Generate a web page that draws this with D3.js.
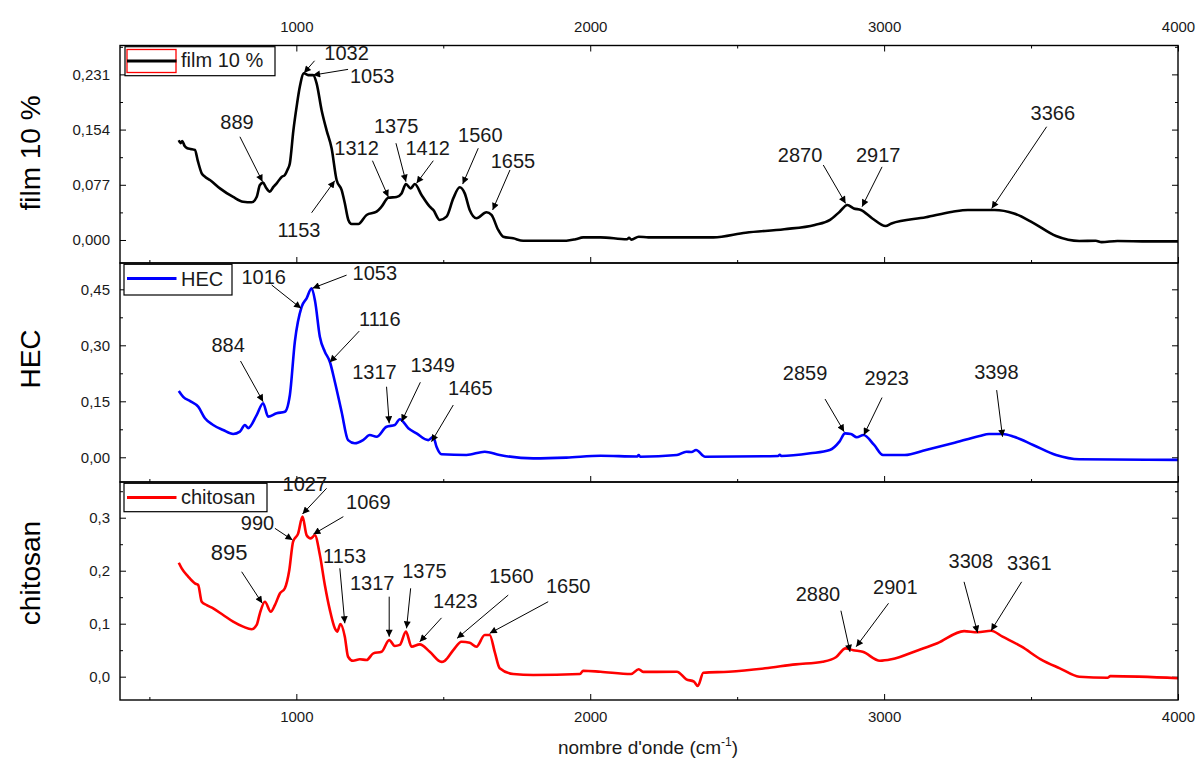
<!DOCTYPE html>
<html>
<head>
<meta charset="utf-8">
<script src="https://cdn.jsdelivr.net/npm/d3@7"></script>
<style>
  body { margin: 0; background: #fff; }
  svg { display: block; font-family: "Liberation Sans", Arial, sans-serif; }
</style>
</head>
<body>
<div id="chart"></div>
<script>
// ---- data: [wavenumber, absorbance] ----
const filmSpectrum = [
  [600,0.139],[606,0.135],[612,0.138],[620,0.131],[629,0.128],[640,0.127],[655,0.1256],[665,0.110],[678,0.093],
  [690,0.088],[706,0.0837],[740,0.072],[785,0.060],[819,0.0534],[848,0.0526],[865,0.060],[876,0.0767],[887,0.080],
  [897,0.073],[910,0.0674],[922,0.074],[933,0.079],[950,0.088],[961,0.0907],[970,0.098],[978,0.107],[990,0.153],
  [1001,0.186],[1012,0.214],[1026,0.2325],[1040,0.230],[1057,0.230],[1069,0.2186],[1086,0.181],[1103,0.153],
  [1120,0.128],[1137,0.0837],[1154,0.0698],[1165,0.0512],[1177,0.0279],[1188,0.0223],[1211,0.0223],[1239,0.0349],
  [1273,0.0395],[1290,0.0465],[1313,0.059],[1341,0.060],[1358,0.065],[1373,0.078],[1389,0.072],[1403,0.078],
  [1426,0.0628],[1454,0.0465],[1466,0.0419],[1488,0.0279],[1511,0.0325],[1534,0.058],[1556,0.0735],[1573,0.065],
  [1590,0.0419],[1613,0.0303],[1647,0.0386],[1664,0.0349],[1687,0.014],[1704,0.0046],[1738,0.0023],[1772,-0.001],
  [1919,-0.001],[1950,0.001],[1976,0.0037],[2035,0.0037],[2125,0.001],[2132,0.003],[2140,0.0005],[2165,0.0045],
  [2198,0.0037],[2419,0.0037],[2529,0.0102],[2660,0.015],[2764,0.021],[2816,0.028],[2849,0.0395],[2875,0.0488],
  [2897,0.044],[2921,0.0419],[2960,0.030],[3005,0.0195],[3025,0.023],[3142,0.0317],[3233,0.0395],[3285,0.0419],
  [3376,0.0419],[3442,0.037],[3507,0.024],[3585,0.0056],[3664,-0.0014],[3720,-0.001],[3740,-0.003],[3794,-0.0014],
  [3900,-0.002],[4000,-0.002]
];
const hecSpectrum = [
  [600,0.1776],[615,0.162],[640,0.150],[666,0.1356],[689,0.1045],[717,0.0865],[751,0.073],[785,0.0624],[808,0.0686],
  [825,0.0865],[836,0.078],[865,0.113],[887,0.1447],[904,0.109],[933,0.118],[961,0.122],[978,0.167],[995,0.31],
  [1018,0.403],[1035,0.426],[1052,0.453],[1064,0.417],[1080,0.323],[1097,0.283],[1114,0.256],[1131,0.2025],
  [1154,0.122],[1176,0.046],[1199,0.0375],[1227,0.046],[1250,0.0597],[1273,0.055],[1307,0.082],[1335,0.0865],
  [1352,0.102],[1381,0.078],[1409,0.064],[1449,0.046],[1466,0.055],[1477,0.028],[1494,0.008],[1579,0.006],
  [1641,0.015],[1692,0.006],[1806,-0.003],[1919,-0.001],[2035,0.004],[2160,0.002],[2165,0.006],[2170,0.0016],
  [2295,0.006],[2327,0.015],[2345,0.014],[2360,0.0195],[2391,0.0016],[2640,0.0035],[2645,0.007],[2650,0.0035],
  [2749,0.0107],[2815,0.0195],[2848,0.042],[2867,0.064],[2887,0.0624],[2907,0.0536],[2930,0.0597],[2966,0.033],
  [2996,0.006],[3070,0.006],[3142,0.0195],[3233,0.0375],[3325,0.057],[3357,0.0624],[3403,0.0624],[3442,0.055],
  [3507,0.033],[3585,0.006],[3664,-0.0054],[4000,-0.007]
];
const chitosanSpectrum = [
  [600,0.215],[610,0.2045],[632,0.189],[655,0.176],[666,0.173],[678,0.1415],[695,0.135],[717,0.129],[751,0.1164],
  [785,0.1038],[819,0.0944],[848,0.0894],[865,0.0976],[876,0.1196],[893,0.1415],[913,0.1227],[927,0.135],
  [944,0.157],[961,0.167],[976,0.201],[989,0.255],[1006,0.27],[1021,0.302],[1035,0.267],[1049,0.261],[1063,0.267],
  [1080,0.23],[1097,0.173],[1114,0.126],[1131,0.0913],[1139,0.085],[1150,0.0994],[1165,0.0755],[1176,0.0377],
  [1193,0.030],[1216,0.0328],[1239,0.0315],[1262,0.044],[1290,0.047],[1316,0.069],[1335,0.058],[1352,0.060],
  [1373,0.085],[1392,0.0566],[1420,0.061],[1454,0.047],[1494,0.028],[1505,0.030],[1534,0.050],[1562,0.066],
  [1590,0.064],[1613,0.0566],[1641,0.0787],[1658,0.0787],[1675,0.047],[1692,0.016],[1738,0.005],[1806,0.0032],
  [1965,0.005],[1976,0.0113],[2035,0.0094],[2139,0.005],[2165,0.014],[2180,0.009],[2295,0.0094],[2327,-0.005],
  [2353,-0.0094],[2366,-0.0176],[2385,0.0075],[2471,0.0094],[2595,0.0158],[2699,0.0233],[2791,0.0283],
  [2836,0.0366],[2869,0.0535],[2895,0.050],[2927,0.047],[2986,0.030],[3025,0.0328],[3116,0.050],[3181,0.063],
  [3272,0.086],[3318,0.0838],[3364,0.0868],[3403,0.0755],[3468,0.0566],[3533,0.0328],[3598,0.0158],[3664,0],
  [3760,-0.002],[3770,0.001],[4000,-0.003]
];

// peak labels: [label, label anchor [w,a], arrow start [w,a], arrow tip [w,a]]
const filmPeaks = [
  ["889",[798,0.155],[808,0.144],[885,0.0813]],
  ["1032",[1171,0.2515],[1062,0.250],[1026,0.233]],
  ["1053",[1258,0.2195],[1176,0.238],[1057,0.230]],
  ["1153",[1009,0.0046],[1052,0.038],[1131,0.0827]],
  ["1312",[1205,0.1186],[1259,0.1106],[1313,0.060]],
  ["1375",[1340,0.149],[1339,0.135],[1373,0.0813]],
  ["1412",[1447,0.1186],[1466,0.1106],[1409,0.079]],
  ["1560",[1626,0.137],[1619,0.128],[1566,0.078]],
  ["1655",[1737,0.101],[1727,0.0977],[1668,0.0419]],
  ["2870",[2714,0.109],[2793,0.1046],[2869,0.051]],
  ["2917",[2980,0.109],[2993,0.102],[2925,0.0465]],
  ["3366",[3574,0.167],[3553,0.158],[3366,0.044]]
];
const hecPeaks = [
  ["884",[768,0.281],[810,0.258],[887,0.149]],
  ["1016",[889,0.4635],[916,0.4616],[1016,0.399]],
  ["1053",[1267,0.475],[1171,0.488],[1055,0.453]],
  ["1116",[1284,0.3526],[1214,0.338],[1114,0.2545]],
  ["1317",[1266,0.209],[1307,0.189],[1316,0.091]],
  ["1349",[1464,0.2277],[1422,0.201],[1358,0.0954]],
  ["1465",[1592,0.167],[1534,0.140],[1460,0.0418]],
  ["2859",[2731,0.207],[2799,0.156],[2864,0.0686]],
  ["2923",[3009,0.1937],[2993,0.16],[2931,0.0597]],
  ["3398",[3382,0.21],[3383,0.18],[3403,0.055]]
];
const chitosanPeaks = [
  ["895",[771,0.22],[814,0.198],[884,0.1385]],
  ["990",[868,0.277],[927,0.28],[987,0.258]],
  ["1027",[1029,0.351],[1103,0.3555],[1021,0.307]],
  ["1069",[1245,0.316],[1160,0.302],[1058,0.269]],
  ["1153",[1164,0.214],[1148,0.2045],[1165,0.1008]],
  ["1317",[1258,0.1636],[1316,0.151],[1316,0.0755]],
  ["1375",[1436,0.1857],[1389,0.1668],[1375,0.0913]],
  ["1423",[1541,0.129],[1494,0.111],[1420,0.066]],
  ["1560",[1732,0.176],[1721,0.154],[1547,0.0724]],
  ["1650",[1925,0.157],[1857,0.1415],[1658,0.0818]],
  ["2880",[2775,0.1434],[2853,0.1245],[2884,0.047]],
  ["2901",[3038,0.156],[3015,0.1385],[2905,0.0566]],
  ["3308",[3295,0.2045],[3272,0.179],[3318,0.083]],
  ["3361",[3494,0.201],[3468,0.179],[3364,0.0868]]
];

const xTicks = [1000, 2000, 3000, 4000];
const xMinorTicks = [500, 1500, 2500, 3500];
const filmTicks = [0, 0.077, 0.154, 0.231];
const hecTicks = [0, 0.15, 0.30, 0.45];
const chitosanTicks = [0, 0.1, 0.2, 0.3];

// ---- layout ----
const width = 1199, height = 763;
const svg = d3.select("#chart").append("svg")
  .attr("width", width)
  .attr("height", height);

const locale = d3.formatLocale({ decimal: ",", thousands: ".", grouping: [3], currency: ["", ""] });

const x = d3.scaleLinear().domain([400, 4000]).range([120, 1178]);

const panels = [
  { title: "film 10 %", data: filmSpectrum, peaks: filmPeaks, color: "#000000", top: 45.5, bottom: 263,
    domain: [-0.0321, 0.2713], ticks: filmTicks, fmt: ".3f", titleY: 153,
    legend: { x0: 125, x1: 275, y0: 46.7, y1: 75.7, lineY: 61, textY: 67 } },
  { title: "HEC", data: hecSpectrum, peaks: hecPeaks, color: "#0000ff", top: 263, bottom: 482,
    domain: [-0.0662, 0.5205], ticks: hecTicks, fmt: ".2f", titleY: 359,
    legend: { x0: 124, x1: 232, y0: 264.3, y1: 295, lineY: 278.5, textY: 286 } },
  { title: "chitosan", data: chitosanSpectrum, peaks: chitosanPeaks, color: "#ff0000", top: 482, bottom: 700,
    domain: [-0.044, 0.3674], ticks: chitosanTicks, fmt: ".1f", titleY: 573,
    legend: { x0: 124, x1: 267, y0: 483.3, y1: 511.7, lineY: 497.5, textY: 504 } }
];

// arrow head
svg.append("defs").append("marker")
  .attr("id", "arrow")
  .attr("viewBox", "0 0 10 10")
  .attr("refX", 10)
  .attr("refY", 5)
  .attr("markerWidth", 9)
  .attr("markerHeight", 7)
  .attr("markerUnits", "userSpaceOnUse")
  .attr("orient", "auto")
  .append("path")
  .attr("d", "M0,0L10,5L0,10z")
  .attr("fill", "#000");

function styleAxis(g) {
  g.select(".domain").remove();
  g.selectAll(".tick line").attr("stroke", "#000").attr("stroke-width", 1);
  g.selectAll(".tick text")
    .attr("fill", "#1a1a1a")
    .style("font-size", "15px")
    .style("font-family", "'Liberation Sans', Arial, sans-serif");
}

panels.forEach((p, i) => {
  const y = d3.scaleLinear().domain(p.domain).range([p.bottom, p.top]);
  const g = svg.append("g");

  // minor y ticks halfway between majors
  const step = p.ticks[1] - p.ticks[0];
  const minor = p.ticks.map(t => t + step / 2).filter(t => t < p.domain[1]);

  // left axis
  g.append("g").attr("transform", "translate(120,0)")
    .call(d3.axisLeft(y).tickValues(p.ticks).tickSize(-6).tickPadding(10).tickFormat(locale.format(p.fmt)))
    .call(styleAxis);
  g.append("g").attr("transform", "translate(120,0)")
    .call(d3.axisLeft(y).tickValues(minor).tickSize(-3).tickFormat(""))
    .call(styleAxis);
  // right axis
  g.append("g").attr("transform", "translate(1178,0)")
    .call(d3.axisRight(y).tickValues(p.ticks).tickSize(-6).tickFormat(""))
    .call(styleAxis);
  g.append("g").attr("transform", "translate(1178,0)")
    .call(d3.axisRight(y).tickValues(minor).tickSize(-3).tickFormat(""))
    .call(styleAxis);

  // bottom axis (labels only on last panel)
  g.append("g").attr("transform", `translate(0,${p.bottom})`)
    .call(d3.axisBottom(x).tickValues(xTicks).tickSize(-6).tickPadding(11)
      .tickFormat(i === panels.length - 1 ? d3.format("d") : ""))
    .call(styleAxis);
  g.append("g").attr("transform", `translate(0,${p.bottom})`)
    .call(d3.axisBottom(x).tickValues(xMinorTicks).tickSize(-3).tickFormat(""))
    .call(styleAxis);

  // top axis on first panel
  if (i === 0) {
    g.append("g").attr("transform", `translate(0,${p.top})`)
      .call(d3.axisTop(x).tickValues(xTicks).tickSize(-6).tickPadding(14).tickFormat(d3.format("d")))
      .call(styleAxis);
    g.append("g").attr("transform", `translate(0,${p.top})`)
      .call(d3.axisTop(x).tickValues(xMinorTicks).tickSize(-3).tickFormat(""))
      .call(styleAxis);
  }

  // spectrum
  const line = d3.line().x(d => x(d[0])).y(d => y(d[1])).curve(d3.curveMonotoneX);
  g.append("path")
    .datum(p.data)
    .attr("fill", "none")
    .attr("stroke", p.color)
    .attr("stroke-width", 2.6)
    .attr("stroke-linejoin", "round")
    .attr("d", line);

  // frame
  g.append("rect")
    .attr("x", 120)
    .attr("y", p.top)
    .attr("width", 1178 - 120)
    .attr("height", p.bottom - p.top)
    .attr("fill", "none")
    .attr("stroke", "#000")
    .attr("stroke-width", 1.4);

  // peak arrows and labels
  p.peaks.forEach(pk => {
    g.append("line")
      .attr("x1", x(pk[2][0])).attr("y1", y(pk[2][1]))
      .attr("x2", x(pk[3][0])).attr("y2", y(pk[3][1]))
      .attr("stroke", "#000")
      .attr("stroke-width", 1)
      .attr("marker-end", "url(#arrow)");
    g.append("text")
      .attr("x", x(pk[1][0]))
      .attr("y", y(pk[1][1]))
      .attr("text-anchor", "middle")
      .attr("fill", "#1a1a1a")
      .style("font-size", pk[0] === "895" ? "22px" : "20px")
      .text(pk[0]);
  });

  // legend
  const L = p.legend;
  g.append("rect")
    .attr("x", L.x0).attr("y", L.y0)
    .attr("width", L.x1 - L.x0).attr("height", L.y1 - L.y0)
    .attr("fill", "#fff")
    .attr("stroke", "#000")
    .attr("stroke-width", 1.2);
  if (i === 0) {
    g.append("rect")
      .attr("x", 127).attr("y", 49.5)
      .attr("width", 49).attr("height", 23)
      .attr("fill", "none")
      .attr("stroke", "#ff0000")
      .attr("stroke-width", 1.3);
  }
  g.append("line")
    .attr("x1", 127).attr("x2", 176.5)
    .attr("y1", L.lineY).attr("y2", L.lineY)
    .attr("stroke", p.color)
    .attr("stroke-width", 2.8);
  g.append("text")
    .attr("x", 181)
    .attr("y", L.textY)
    .attr("fill", "#1a1a1a")
    .style("font-size", "20px")
    .text(p.title);

  // y title
  svg.append("text")
    .attr("transform", `translate(40,${p.titleY}) rotate(-90)`)
    .attr("text-anchor", "middle")
    .attr("fill", "#000")
    .style("font-size", "28px")
    .text(p.title);
});

// x title
const xTitle = svg.append("text")
  .attr("x", 648)
  .attr("y", 754)
  .attr("text-anchor", "middle")
  .attr("fill", "#1a1a1a")
  .style("font-size", "19px");
xTitle.append("tspan").text("nombre d'onde (cm");
xTitle.append("tspan").attr("dy", -8).style("font-size", "12px").text("-1");
xTitle.append("tspan").attr("dy", 8).text(")");
</script>
</body>
</html>
